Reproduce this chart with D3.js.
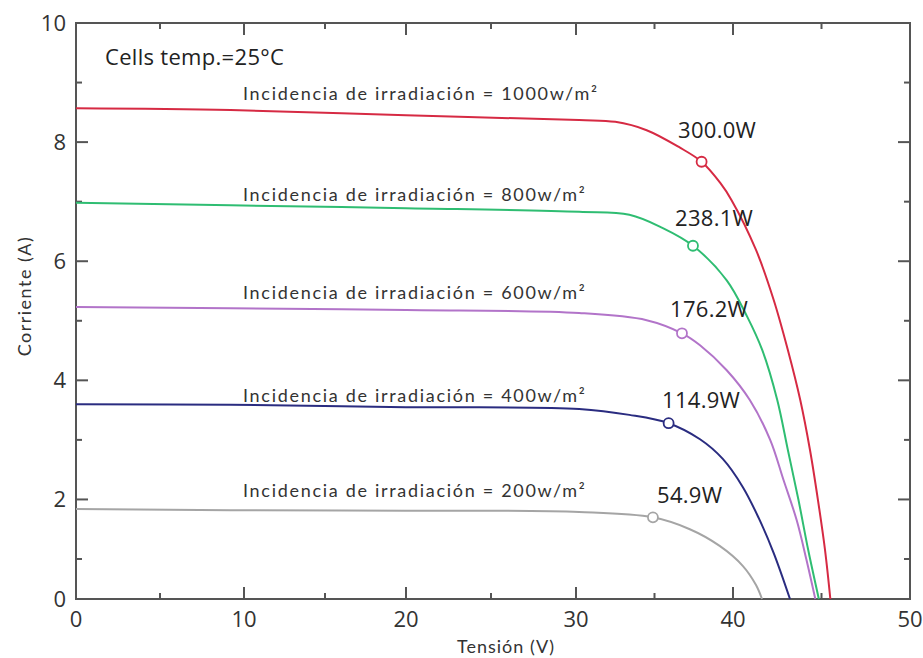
<!DOCTYPE html>
<html>
<head>
<meta charset="utf-8">
<script src="https://cdn.jsdelivr.net/npm/d3@7"></script>
<style>
  body { margin: 0; background: #fff; }
  svg { display: block; }
</style>
</head>
<body>
<div id="chart"></div>
<script>
// irradiance levels and their max power point labels
var irradiance = [1000, 800, 600, 400, 200]
var powerLabels = ["300.0W", "238.1W", "176.2W", "114.9W", "54.9W"]
var colors = ["#d62a43", "#2fbd72", "#b274c9", "#2a2c80", "#a5a5a5"]

// I-V curves: [tension V, corriente A]
var curve1000 = [[0, 8.57], [9.2, 8.54], [20, 8.45], [30.2, 8.37], [32.5, 8.34], [34.5, 8.2], [36.6, 7.91], [38.0, 7.67], [39.2, 7.31], [39.9, 7.03], [41.3, 6.19], [42.3, 5.35], [43.1, 4.51], [43.8, 3.67], [44.35, 2.83], [44.8, 1.99], [45.2, 1.15], [45.5, 0]]
var curve800 = [[0, 6.98], [9.2, 6.94], [20, 6.89], [30.2, 6.83], [33.4, 6.78], [35.5, 6.56], [37.45, 6.26], [39.6, 5.68], [40.8, 5.07], [41.65, 4.51], [42.5, 3.67], [43.1, 2.83], [43.7, 1.99], [44.25, 1.15], [44.85, 0]]
var curve600 = [[0, 5.23], [9.2, 5.21], [20, 5.18], [30.2, 5.13], [34.5, 5.01], [36.75, 4.79], [37.9, 4.59], [39.6, 4.17], [40.95, 3.67], [42.1, 3.0], [42.85, 2.33], [43.6, 1.65], [44.15, 0.98], [44.65, 0]]
var curve400 = [[0, 3.6], [9.2, 3.59], [20, 3.55], [30.2, 3.52], [33.4, 3.42], [35.9, 3.28], [37.9, 3.01], [39.35, 2.68], [40.55, 2.21], [41.45, 1.69], [42.3, 1.1], [43.22, 0]]
var curve200 = [[0, 1.84], [9.2, 1.82], [20, 1.81], [30.2, 1.79], [34.9, 1.7], [37.25, 1.5], [39.15, 1.22], [40.55, 0.83], [41.3, 0.35], [41.64, 0]]
var curves = [curve1000, curve800, curve600, curve400, curve200]

// max power points (V, A)
var mppV = [38.0, 37.45, 36.75, 35.9, 34.9]
var mppI = [7.67, 6.26, 4.79, 3.28, 1.70]

var xMajor = [0, 10, 20, 30, 40, 50]
var xMinor = [5, 15, 25, 35, 45]
var yMajor = [0, 2, 4, 6, 8, 10]
var yMinor = [1, 3, 5, 7, 9]

var width = 923, height = 658

var svg = d3.select("#chart").append("svg")
	.attr("width", width)
	.attr("height", height)

// the source picture is not evenly spaced, so polylinear scales
var x = d3.scaleLinear()
	.domain([0, 10, 20, 30, 40, 50])
	.range([76, 244, 406, 576, 733, 910])

var y = d3.scaleLinear()
	.domain([0, 1, 10])
	.range([599, 559, 23])

var x0 = x(0), x1 = x(50), y0 = y(0), y1 = y(10)

var frame = svg.append("g")
	.attr("stroke", "#555")
	.attr("stroke-width", 2)

// ticks point inward on every side
function xTicks(vals, len) {
	frame.selectAll(null).data(vals).join("line")
		.attr("x1", d => x(d)).attr("x2", d => x(d))
		.attr("y1", y0).attr("y2", y0 - len)
	frame.selectAll(null).data(vals).join("line")
		.attr("x1", d => x(d)).attr("x2", d => x(d))
		.attr("y1", y1).attr("y2", y1 + len)
}
function yTicks(vals, len) {
	frame.selectAll(null).data(vals).join("line")
		.attr("y1", d => y(d)).attr("y2", d => y(d))
		.attr("x1", x0).attr("x2", x0 + len)
	frame.selectAll(null).data(vals).join("line")
		.attr("y1", d => y(d)).attr("y2", d => y(d))
		.attr("x1", x1).attr("x2", x1 - len)
}
xTicks(xMajor.slice(1, -1), 12)
xTicks(xMinor, 6)
yTicks(yMajor.slice(1, -1), 12)
yTicks(yMinor, 6)

frame.append("rect")
	.attr("x", x0).attr("y", y1)
	.attr("width", x1 - x0).attr("height", y0 - y1)
	.attr("fill", "none")

var numFont = "'Open Sans', 'Noto Sans', sans-serif"
var lblFont = "Lato, 'Noto Sans', sans-serif"

svg.append("g").selectAll("text").data(xMajor).join("text")
	.attr("x", d => x(d))
	.attr("y", 627)
	.attr("text-anchor", "middle")
	.attr("font-family", numFont)
	.attr("font-size", 22)
	.attr("fill", "#333")
	.text(d => d)

svg.append("g").selectAll("text").data(yMajor).join("text")
	.attr("x", 66)
	.attr("y", d => y(d) + 8)
	.attr("text-anchor", "end")
	.attr("font-family", numFont)
	.attr("font-size", 22)
	.attr("fill", "#333")
	.text(d => d)

svg.append("text")
	.attr("x", 506)
	.attr("y", 653)
	.attr("text-anchor", "middle")
	.attr("font-family", lblFont)
	.attr("font-size", 18)
	.attr("letter-spacing", 1)
	.attr("fill", "#333")
	.text("Tensión (V)")

svg.append("text")
	.attr("transform", "translate(31,296) rotate(-90)")
	.attr("text-anchor", "middle")
	.attr("font-family", lblFont)
	.attr("font-size", 18)
	.attr("letter-spacing", 1.5)
	.attr("fill", "#333")
	.text("Corriente (A)")

svg.append("text")
	.attr("x", 105)
	.attr("y", 65)
	.attr("font-family", numFont)
	.attr("font-size", 22)
	.attr("letter-spacing", 0.3)
	.attr("fill", "#222")
	.text("Cells temp.=25°C")

var line = d3.line()
	.curve(d3.curveCatmullRom.alpha(0.5))
	.x(d => x(d[0]))
	.y(d => y(d[1]))

var series = svg.append("g")

series.selectAll("path").data(curves).join("path")
	.attr("fill", "none")
	.attr("stroke", (d, i) => colors[i])
	.attr("stroke-width", 2)
	.attr("d", line)

// irradiance labels sit just above the flat part of each curve
var labelY = [100, 201, 299, 402, 497]
svg.append("g").selectAll("text").data(irradiance).join("text")
	.attr("x", x(10) - 1)
	.attr("y", (d, i) => labelY[i])
	.attr("font-family", lblFont)
	.attr("font-size", 18)
	.attr("letter-spacing", 1.7)
	.attr("fill", "#333")
	.text(d => `Incidencia de irradiación = ${d}w/m²`)

series.selectAll("circle").data(mppV).join("circle")
	.attr("cx", d => x(d))
	.attr("cy", (d, i) => y(mppI[i]))
	.attr("r", 5)
	.attr("fill", "#fff")
	.attr("stroke", (d, i) => colors[i])
	.attr("stroke-width", 1.8)

var powerX = [678, 675, 670, 662, 657]
var powerY = [138, 226, 317, 408, 503]
svg.append("g").selectAll("text").data(powerLabels).join("text")
	.attr("x", (d, i) => powerX[i])
	.attr("y", (d, i) => powerY[i])
	.attr("font-family", numFont)
	.attr("font-size", 22)
	.attr("letter-spacing", 0.3)
	.attr("fill", "#222")
	.text(d => d)
</script>
</body>
</html>
